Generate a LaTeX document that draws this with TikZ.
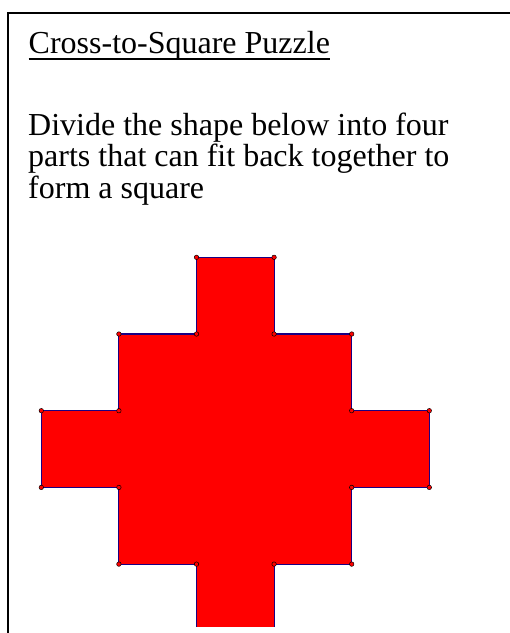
\documentclass[tikz,border=0pt]{standalone}
\usepackage{fontspec}
\setmainfont{Liberation Serif}
\begin{document}
\begin{tikzpicture}[x=1pt,y=-1pt,
  txt/.style={inner sep=0pt,anchor=base west,font=\fontsize{32}{32}\selectfont},
  vtx/.style={circle,fill=red,draw=black,line width=0.5pt,inner sep=0pt,minimum size=4.5pt},
  outline/.style={draw={rgb,255:red,25;green,0;blue,130},line width=1.1pt,fill=red}]
\useasboundingbox (0,0) rectangle (510,633);
\fill[white] (0,0) rectangle (510,633);
% frame
\draw[line width=2pt] (8,634) -- (8,13) -- (511,13);
% texts
\node[txt] (title) at (28.5,53) {Cross-to-Square Puzzle};
\draw[line width=1.8pt] ([yshift=-6pt]title.base west) -- ([yshift=-6pt]title.base east);
\node[txt] (l1) at (28,135) {Divide the shape below into four};
\node[txt] (l2) at (28,166.7) {parts that can fit back together to};
\node[txt] (l3) at (28,198.4) {form a square};
% shape
\def\xa{41.3}\def\xb{118.9}\def\xc{196.5}\def\xd{274.1}\def\xe{351.7}\def\xf{429.3}
\def\ya{257.3}\def\yb{334}\def\yc{410.7}\def\yd{487.4}\def\ye{564.1}\def\yf{645}
\begin{scope}
\clip (0,0) rectangle (510,626);
\path[outline] (\xc,\ya) -- (\xd,\ya) -- (\xd,\yb) -- (\xe,\yb) -- (\xe,\yc) -- (\xf,\yc)
  -- (\xf,\yd) -- (\xe,\yd) -- (\xe,\ye) -- (\xd,\ye) -- (\xd,\yf) -- (\xc,\yf)
  -- (\xc,\ye) -- (\xb,\ye) -- (\xb,\yd) -- (\xa,\yd) -- (\xa,\yc) -- (\xb,\yc)
  -- (\xb,\yb) -- (\xc,\yb) -- cycle;
\end{scope}
\foreach \p [count=\i] in {{\xc,\ya},{\xd,\ya},{\xc,\yb},{\xd,\yb},{\xb,\yb},{\xe,\yb},
  {\xa,\yc},{\xb,\yc},{\xe,\yc},{\xf,\yc},{\xa,\yd},{\xb,\yd},{\xe,\yd},{\xf,\yd},
  {\xb,\ye},{\xc,\ye},{\xd,\ye},{\xe,\ye}}
  \node[vtx] (v\i) at (\p) {};
\end{tikzpicture}
\end{document}
